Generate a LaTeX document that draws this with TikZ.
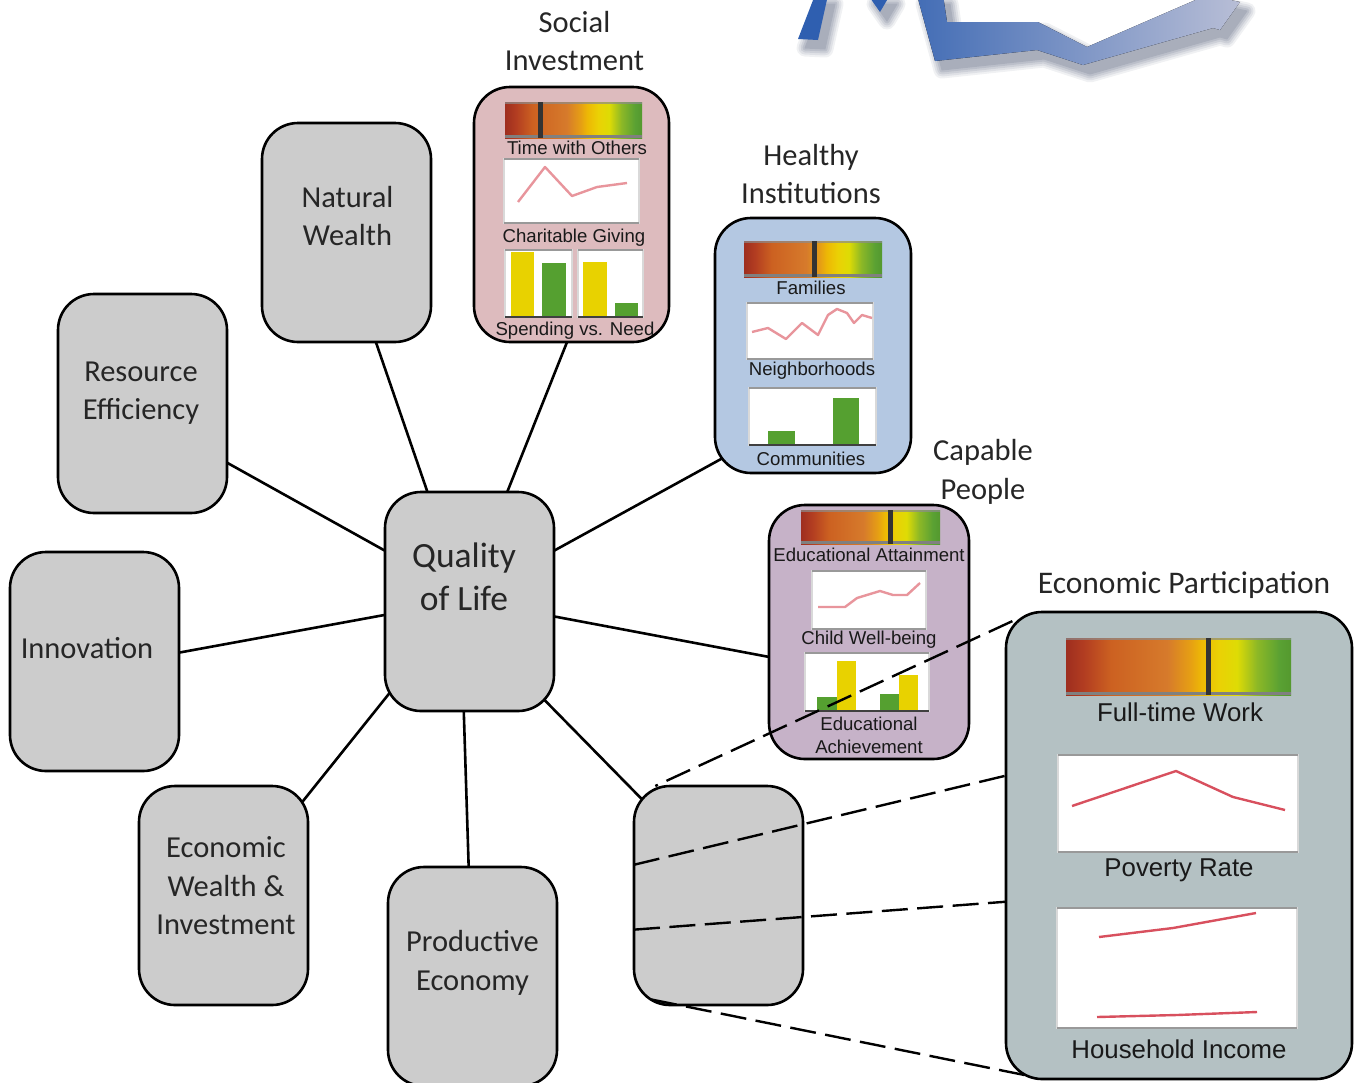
\documentclass[tikz,border=0pt]{standalone}
\usepackage{fontspec}
\setmainfont{Carlito}
\newfontfamily\chartfont{Liberation Sans}
\usetikzlibrary{backgrounds}
\definecolor{boxgray}{HTML}{CCCCCC}
\definecolor{socialpink}{HTML}{DDBBBE}
\definecolor{healthyblue}{HTML}{B4C8E2}
\definecolor{capablemauve}{HTML}{C6B2C8}
\definecolor{detailgray}{HTML}{B4C1C3}
\definecolor{barred}{HTML}{E8959C}
\definecolor{bardeep}{HTML}{D8505E}
\definecolor{baryellow}{HTML}{E8D200}
\definecolor{bargreen}{HTML}{55A030}
\definecolor{logoblue}{HTML}{2F5FB0}
\definecolor{logopale}{HTML}{B8BED6}
\definecolor{logoshadow}{HTML}{56607A}
\pgfdeclarehorizontalshading{scorecolors}{100bp}{
    rgb(0bp)=(.62,.18,.12); rgb(25bp)=(.62,.18,.12); rgb(29bp)=(.70,.24,.13);
    rgb(35bp)=(.80,.38,.13); rgb(47.5bp)=(.84,.48,.17); rgb(52.5bp)=(.90,.62,.08);
    rgb(55bp)=(.93,.72,.02); rgb(59bp)=(.92,.82,.02); rgb(63bp)=(.87,.86,.02);
    rgb(67.5bp)=(.55,.72,.15); rgb(72.5bp)=(.35,.63,.2); rgb(75bp)=(.33,.60,.18);
    rgb(100bp)=(.33,.60,.18)}

\begin{document}
\begin{tikzpicture}[
        x=1pt, y=-1pt,
        topic/.style={rectangle, draw, line width=2.6pt, rounded corners=36pt, outer sep=0pt, inner sep=0pt},
        graybox/.style={topic, fill=boxgray, minimum width=169pt, minimum height=219pt},
        title/.style={font=\fontsize{30.5}{38.6}\selectfont, align=center, text=black!85},
        caption/.style={font=\chartfont\fontsize{18.6}{23}\selectfont, align=center, text=black!90},
        bigcaption/.style={font=\chartfont\fontsize{25.8}{30}\selectfont, align=center, text=black!90},
        scorebar/.style={rectangle, shading=scorecolors, outer sep=0pt, inner sep=0pt},
        barmark/.style={line width=5pt, black!80},
        chart/.style={rectangle, draw=black!15, fill=white, line width=1.6pt, outer sep=0pt, inner sep=0pt},
        trend/.style={barred, line width=2.4pt, line join=round},
        link/.style={line width=2.6pt, shorten <=-14pt, shorten >=-14pt},
        zoomlink/.style={line width=2.4pt, dash pattern=on 26pt off 9.5pt}
    ]
    \path[use as bounding box, clip] (0,0) rectangle (1359,1082);

    % Logo
    \foreach \w/\op in {17/.09,13/.11,9/.13,5/.15,1/.18} {
        \begin{scope}[transparency group, opacity=\op]
        \fill[logoshadow, draw=logoshadow, line width=\w pt, line join=round, shift={(7pt,-9pt)}]
            (798,39) -- (815,-5) -- (828,-5) -- (818,40) -- cycle
            (868,-5) -- (880,12) -- (890,-5) -- cycle
            (917,-5) -- (935,61) -- (1037,50) -- (1083,65) -- (1213,28) -- (1220,30)
            -- (1240,2) -- (1207,-5) -- (1087,47) -- (1038,22) -- (947,22) -- (943,-5) -- cycle;
        \end{scope}
    }
    \fill[logoblue] (798,39) -- (815,-5) -- (828,-5) -- (818,40) -- cycle;
    \fill[logoblue] (868,-5) -- (880,12) -- (890,-5) -- cycle;
    \fill[left color=logoblue!85!logopale, right color=logopale]
        (917,-5) -- (935,61) -- (1037,50) -- (1083,65) -- (1213,28) -- (1220,30)
        -- (1240,2) -- (1207,-5) -- (1087,47) -- (1038,22) -- (947,22) -- (943,-5) -- cycle;

    % Gray Boxes
    \node[graybox] (quality) at (469.5,601.5) {};
    \node[graybox] (natural) at (346.5,232.5) {};
    \node[graybox] (resource) at (142.5,403.5) {};
    \node[graybox] (innovation) at (94.5,661.5) {};
    \node[graybox] (wealth) at (223.5,895.5) {};
    \node[graybox] (productive) at (472.5,976.5) {};
    \node[graybox] (blank) at (718.5,895.5) {};

    % Detail Boxes
    \node[topic, fill=socialpink, minimum width=195pt, minimum height=255pt] (social) at (571.5,214.5) {};
    \node[topic, fill=healthyblue, minimum width=196pt, minimum height=255pt] (healthy) at (813,345.5) {};
    \node[topic, fill=capablemauve, minimum width=200pt, minimum height=254pt] (capable) at (869,632) {};
    \node[topic, fill=detailgray, minimum width=346pt, minimum height=467pt] (participation) at (1179,845.5) {};

    % Connections
    \begin{scope}[on background layer]
        \draw[link] (quality.111.3) -- (natural.-75.5);
        \draw[link] (quality.71.1) -- (social.268);
        \draw[link] (quality.31.4) -- (healthy.-130.6);
        \draw[link] (quality.-10.4) -- (capable.194.6);
        \draw[link] (quality.149.1) -- (resource.-35);
        \draw[link] (quality.189.7) -- (innovation.6.4);
        \draw[link] (quality.229.6) -- (wealth.50.6);
        \draw[link] (quality.267.6) -- (productive.92.4);
        \draw[link] (quality.-52.5) -- (blank.129.4);
    \end{scope}

    % Score Bars
    \foreach \name/\cx/\cy/\w/\h/\m in {barsocial/573.5/120/137/36/540, barhealthy/813/259/138/36/814,
            barcapable/870.5/527/139/34/890, barwork/1178.5/666.5/225/57/1208} {
        \node[scorebar, minimum width=\w pt, minimum height=\h pt] (\name) at (\cx,\cy) {};
        \draw[black!45, opacity=.7, line width=2pt] ([yshift=-1pt]\name.north west) -- ([yshift=-1pt]\name.north east);
        \draw[black!50, line width=3pt] ([yshift=1.5pt]\name.south west) -- ([yshift=1.5pt]\name.south east);
        \draw[barmark] (\m,\cy-\h/2) -- (\m,\cy+\h/2);
    }

    % Chart Frames
    \foreach \name/\cx/\cy/\w/\h in {chartgiving/571.5/191/135/64, chartspendleft/538.5/283.5/67/67, chartspendright/610.5/283.5/65/67,
            chartneighbor/810/331/126/56, chartcommunity/812.5/416.5/127/57, chartchild/869/600/114/58,
            chartachieve/867/682/124/58, chartpoverty/1178/803.5/240/97, chartincome/1177/968/240/120} {
        \node[chart, minimum width=\w pt, minimum height=\h pt] (\name) at (\cx,\cy) {};
        \draw[black!40, line width=1.6pt] (\name.north west) -- (\name.north east);
        \draw[black!40, line width=1.6pt] (\name.south west) -- (\name.south east);
    }

    % Trend Lines
    \draw[trend] (518,202) -- (545,167) -- (572,196) -- (597,187) -- (627,183);
    \draw[trend] (752,332) -- (768,328) -- (786,339) -- (802,323) -- (818,335) -- (828,315)
        -- (837,309) -- (847,313) -- (854,323) -- (862,315) -- (872,318);
    \draw[trend] (818,607) -- (845,607) -- (857,598) -- (880,591) -- (893,595) -- (907,595) -- (920,583);
    \draw[trend, bardeep] (1072,806) -- (1176,771) -- (1233,797) -- (1285,810);
    \draw[trend, bardeep] (1099,937) -- (1173,928) -- (1256,913);
    \draw[trend, bardeep] (1097,1017) -- (1177,1015) -- (1257,1012);

    % Bars
    \foreach \l/\r/\t/\b/\c in {511/534/252/317/baryellow, 542/566/263/317/bargreen, 583/607/262/317/baryellow,
            615/638/303/317/bargreen, 768/795/431/445/bargreen, 833/859/398/445/bargreen,
            817/837/697/711/bargreen, 837/856/661/711/baryellow, 880/899/694/711/bargreen, 899/918/675/711/baryellow} {
        \fill[\c] (\l,\t) rectangle (\r,\b);
    }
    \foreach \name in {chartspendleft, chartspendright, chartcommunity, chartachieve} {
        \draw[black!75, line width=2pt] (\name.south west) -- (\name.south east);
    }

    % Titles
    \node[title] (titlesocial) at (574.5,41) {Social\\Investment};
    \node[title] (titlehealthy) at (811,174) {Healthy\\Institutions};
    \node[title] (titlecapable) at (983,472) {Capable\\People};
    \node[title, font=\fontsize{31.5}{38.6}\selectfont] (titleparticipation) at (1184,585) {Economic Participation};
    \node[title] (labelnatural) at (347.5,216) {Natural\\Wealth};
    \node[title] (labelresource) at (141,393) {Resource\\Efficiency};
    \node[title] (labelinnovation) at (87,648) {Innovation};
    \node[title] (labelwealth) at (226,886) {Economic\\Wealth \&\\Investment};
    \node[title] (labelproductive) at (472.5,963) {Productive\\Economy};
    \node[title, font=\fontsize{35.5}{43}\selectfont] (labelquality) at (464,576.5) {Quality\\of Life};

    % Captions
    \node[caption] (capothers) at (577,148) {Time with Others};
    \node[caption] (capgiving) at (574,238) {Charitable Giving};
    \node[caption] (capspending) at (575,331) {Spending vs. Need};
    \node[caption] (capfamilies) at (811,288) {Families};
    \node[caption] (capneighbor) at (812,371) {Neighborhoods};
    \node[caption] (capcommunity) at (811,459) {Communities};
    \node[caption] (capattain) at (869,555) {Educational Attainment};
    \node[caption] (capchild) at (869,640) {Child Well-being};
    \node[caption] (capachieve) at (869,735) {Educational\\Achievement};
    \node[bigcaption] (capwork) at (1180,712) {Full-time Work};
    \node[bigcaption] (cappoverty) at (1179,870) {Poverty Rate};
    \node[bigcaption] (capincome) at (1179,1049) {Household Income};

    % Zoom Lines
    \draw[zoomlink, shorten <=-7pt] (participation.128.1) -- (blank.120.3);
    \draw[zoomlink] (blank.160.2) -- (participation.158.7);
    \draw[zoomlink] (blank.202.6) -- (participation.198.7);
    \draw[zoomlink, shorten <=20pt, shorten >=-28pt] (participation.240.2) -- (blank.250.6);

\end{tikzpicture}
\end{document}
